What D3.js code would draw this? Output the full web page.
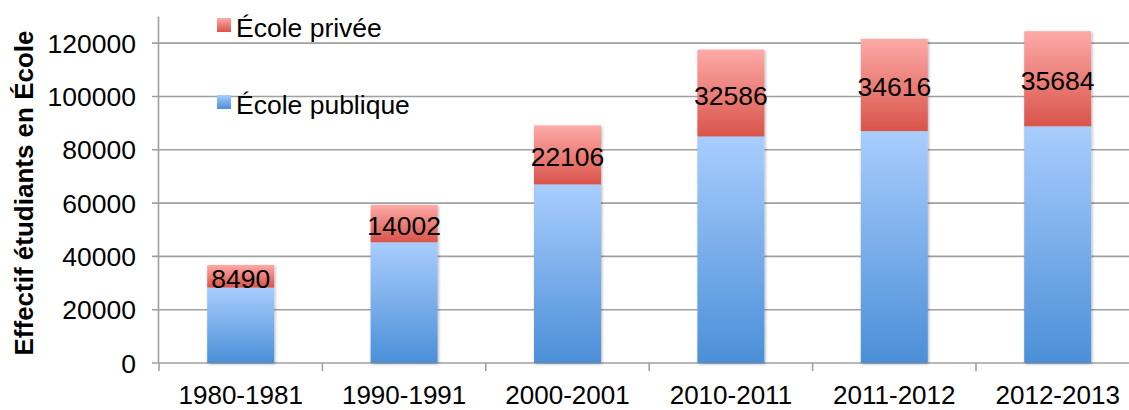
<!DOCTYPE html>
<html>
<head>
<meta charset="utf-8">
<script src="https://cdn.jsdelivr.net/npm/d3@7"></script>
<style>
  html, body { margin: 0; padding: 0; background: #fff; }
  svg { display: block; font-family: "Liberation Sans", Arial, sans-serif; }
</style>
</head>
<body>
<svg id="chart" width="1129" height="410"></svg>
<script>
const categories = ["1980-1981", "1990-1991", "2000-2001", "2010-2011", "2011-2012", "2012-2013"];
const publique = [28300, 45300, 67000, 85000, 87000, 88800];
const privee = [8490, 14002, 22106, 32586, 34616, 35684];
const yTicks = [0, 20000, 40000, 60000, 80000, 100000, 120000];
const seriesNames = ["École privée", "École publique"];
const yTitle = "Effectif étudiants en École";

(function () {
const svg = d3.select("#chart");
const W = 1129;
const mLeft = 159, mBottom = 363, mTop = 16.5;

const x = d3.scaleBand().domain(categories).range([mLeft, mLeft + 6 * 163.4])
  .paddingInner(0.59).paddingOuter(0.295);
const y = d3.scaleLinear().domain([0, 130000]).range([mBottom, mTop]);

const defs = svg.append("defs");
function grad(id, c1, c2) {
  const g = defs.append("linearGradient").attr("id", id)
    .attr("x1", 0).attr("y1", 0).attr("x2", 0).attr("y2", 1);
  g.append("stop").attr("offset", "0%").attr("stop-color", c1);
  g.append("stop").attr("offset", "100%").attr("stop-color", c2);
}
grad("gPub", "#a9cdfd", "#4b8fd8");
grad("gPriv", "#fdaaa7", "#d9544a");
const f = defs.append("filter").attr("id", "shadow")
  .attr("x", "-20%").attr("y", "-20%").attr("width", "140%").attr("height", "140%");
f.append("feDropShadow").attr("dx", 1).attr("dy", 1).attr("stdDeviation", 1.6)
  .attr("flood-color", "#000").attr("flood-opacity", 0.3);

const gridColor = "#a0a0a0";
svg.append("g").selectAll("line").data(yTicks).join("line")
  .attr("x1", 152).attr("x2", W)
  .attr("y1", d => y(d)).attr("y2", d => y(d))
  .attr("stroke", gridColor).attr("stroke-width", 1.6);

svg.append("line").attr("x1", mLeft - 0.5).attr("x2", mLeft - 0.5)
  .attr("y1", y(130000)).attr("y2", mBottom)
  .attr("stroke", gridColor).attr("stroke-width", 1.6);

const step = x.step();
const bounds = categories.map(c => x(c) - (step - x.bandwidth()) / 2);
bounds.push(bounds[bounds.length - 1] + step);
svg.append("g").selectAll("line").data(bounds).join("line")
  .attr("x1", d => d).attr("x2", d => d)
  .attr("y1", mBottom).attr("y2", mBottom + 8)
  .attr("stroke", gridColor).attr("stroke-width", 1.6);

svg.append("g").selectAll("text").data(yTicks).join("text")
  .attr("x", 136).attr("y", d => y(d) + 9.5)
  .attr("text-anchor", "end").attr("font-size", 26.5).attr("fill", "#000")
  .text(d => d);

svg.append("g").selectAll("text").data(categories).join("text")
  .attr("x", d => x(d) + x.bandwidth() / 2).attr("y", 403.5)
  .attr("text-anchor", "middle").attr("font-size", 26).attr("fill", "#000")
  .text(d => d);

const bars = svg.append("g").selectAll("g").data(categories).join("g")
  .attr("filter", "url(#shadow)");
bars.append("rect")
  .attr("x", d => x(d)).attr("width", x.bandwidth())
  .attr("y", (d, i) => y(publique[i]))
  .attr("height", (d, i) => y(0) - y(publique[i]))
  .attr("fill", "url(#gPub)");
bars.append("rect")
  .attr("x", d => x(d)).attr("width", x.bandwidth())
  .attr("y", (d, i) => y(publique[i] + privee[i]))
  .attr("height", (d, i) => y(publique[i]) - y(publique[i] + privee[i]))
  .attr("fill", "url(#gPriv)");

svg.append("g").selectAll("text").data(categories).join("text")
  .attr("x", d => x(d) + x.bandwidth() / 2)
  .attr("y", (d, i) => (y(publique[i]) + y(publique[i] + privee[i])) / 2 + 11.5)
  .attr("text-anchor", "middle").attr("font-size", 26.5).attr("fill", "#000")
  .text((d, i) => privee[i]);

const legend = [
  { name: seriesNames[0], fill: "url(#gPriv)", y: 18 },
  { name: seriesNames[1], fill: "url(#gPub)", y: 95 }
];
const lg = svg.append("g").selectAll("g").data(legend).join("g");
lg.append("rect").attr("x", 217).attr("y", d => d.y).attr("width", 14).attr("height", 14)
  .attr("fill", d => d.fill);
lg.append("text").attr("x", 236).attr("y", d => d.y + 19)
  .attr("font-size", 26.5).attr("fill", "#000").text(d => d.name);

svg.append("text")
  .attr("transform", "translate(33,193) rotate(-90)")
  .attr("text-anchor", "middle").attr("font-size", 26).attr("font-weight", "bold")
  .attr("fill", "#000").text(yTitle);
})();
</script>
</body>
</html>
